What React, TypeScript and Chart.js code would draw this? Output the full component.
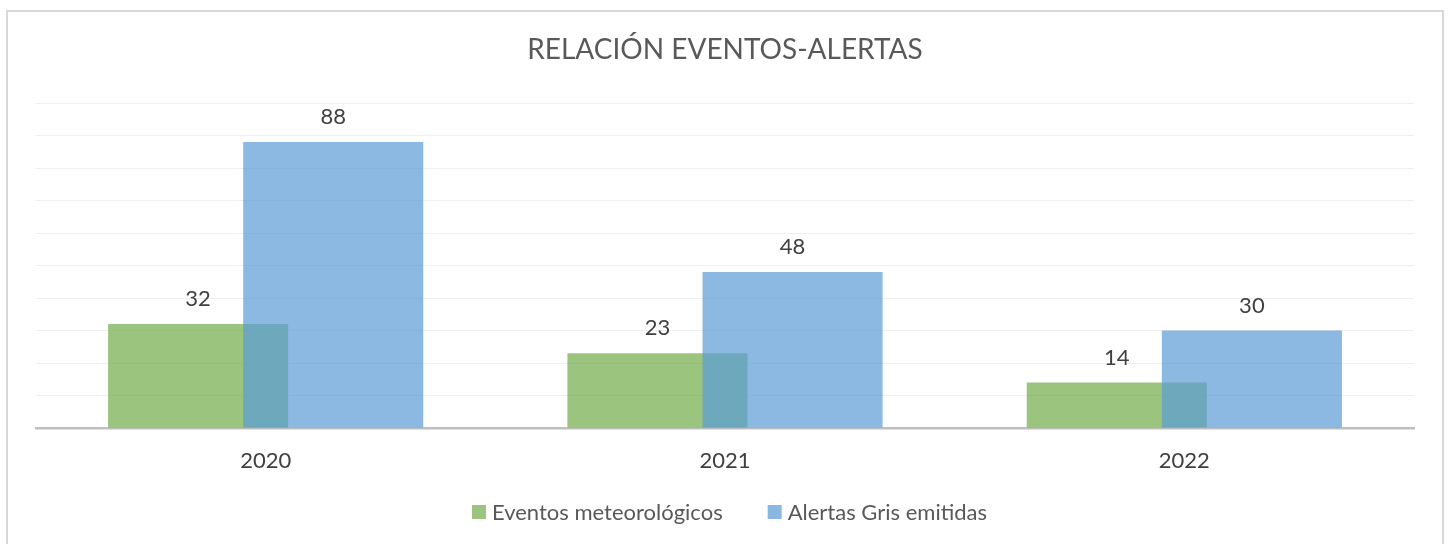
import React, { useEffect, useRef } from "react";
import { Chart, registerables } from "chart.js";

Chart.register(...registerables);

const TITLE = "RELACIÓN EVENTOS-ALERTAS";
const categories = ["2020", "2021", "2022"];
const eventos = [32, 23, 14];
const alertas = [88, 48, 30];
const seriesNames = ["Eventos meteorológicos", "Alertas Gris emitidas"];
const seriesColors = ["rgba(112,173,71,0.7)", "rgba(91,155,213,0.7)"];
const legendColors = ["#9bc57e", "#8ab8e0"];

const FONT = "Lato, 'Open Sans', sans-serif";

// draw datasets in index order so the blue series sits on top of the green one
const drawOrderPlugin = {
  id: "drawOrder",
  beforeDatasetDraw(chart: any, args: any) {
    if (!chart.$manualDraw) return false;
    return true;
  },
  afterDatasetsDraw(chart: any) {
    chart.$manualDraw = true;
    const ctx = chart.ctx;
    chart.data.datasets.forEach((_: any, i: number) => {
      const meta = chart.getDatasetMeta(i);
      ctx.save();
      meta.controller.draw();
      ctx.restore();
    });
    chart.$manualDraw = false;
  },
};

const overlayPlugin = {
  id: "overlay",
  afterDatasetsDraw(chart: any) {
    const ctx = chart.ctx;
    ctx.save();
    ctx.fillStyle = "#404040";
    ctx.font = `22px ${FONT}`;
    ctx.textAlign = "center";
    ctx.textBaseline = "middle";
    chart.data.datasets.forEach((ds: any, i: number) => {
      const meta = chart.getDatasetMeta(i);
      meta.data.forEach((bar: any, j: number) => {
        ctx.fillText(String(ds.data[j]), bar.x, bar.y - 25);
      });
    });
    ctx.fillStyle = "#595959";
    ctx.font = `28px ${FONT}`;
    ctx.fillText(TITLE, 725, 50);
    ctx.font = `22px ${FONT}`;
    ctx.textAlign = "left";
    const gap = 45;
    const box = 14;
    const widths = seriesNames.map((n) => box + 6 + ctx.measureText(n).width);
    const total = widths.reduce((a, b) => a + b, 0) + gap;
    let x = 729.5 - total / 2;
    seriesNames.forEach((n, i) => {
      ctx.fillStyle = legendColors[i];
      ctx.fillRect(x, 512 - box / 2, box, box);
      ctx.fillStyle = "#595959";
      ctx.fillText(n, x + box + 6, 513);
      x += widths[i] + gap;
    });
    ctx.restore();
  },
};

export default function App() {
  const ref = useRef<HTMLCanvasElement>(null);
  useEffect(() => {
    const chart = new Chart(ref.current!, {
      type: "bar",
      data: {
        labels: categories,
        datasets: [
          {
            label: seriesNames[0],
            data: eventos,
            backgroundColor: seriesColors[0],
            categoryPercentage: 0.5882,
            barPercentage: 1.3333,
          },
          {
            label: seriesNames[1],
            data: alertas,
            backgroundColor: seriesColors[1],
            categoryPercentage: 0.5882,
            barPercentage: 1.3333,
          },
        ],
      },
      options: {
        responsive: false,
        animation: false,
        layout: { padding: { left: 36, right: 36, top: 103, bottom: 76 } },
        plugins: {
          legend: { display: false },
          title: { display: false },
          tooltip: { enabled: false },
        },
        scales: {
          x: {
            afterFit: (s: any) => {
              s.height = 40;
            },
            grid: { display: false, drawTicks: false },
            border: { display: true, color: "#bfbfbf", width: 2.5 },
            ticks: {
              color: "#404040",
              font: { family: FONT, size: 22 },
              padding: 20,
            },
          },
          y: {
            min: 0,
            max: 100,
            afterFit: (s: any) => {
              s.width = 0;
            },
            ticks: { display: false, stepSize: 10 },
            grid: { color: "#efefef", lineWidth: 1, drawTicks: false },
            border: { display: false },
          },
        },
      },
      plugins: [drawOrderPlugin, overlayPlugin],
    });
    return () => chart.destroy();
  }, []);
  return (
    <div
      style={{
        position: "fixed",
        left: 0,
        top: 0,
        width: 1450,
        height: 544,
        overflow: "hidden",
        background: "#fff",
      }}
    >
      <div
        style={{
          position: "absolute",
          left: 6,
          top: 10,
          width: 1438,
          height: 600,
          border: "2px solid #d9d9d9",
          boxSizing: "border-box",
        }}
      />
      <canvas
        ref={ref}
        width={1450}
        height={544}
        style={{ position: "absolute", left: 0, top: 0 }}
      />
    </div>
  );
}
